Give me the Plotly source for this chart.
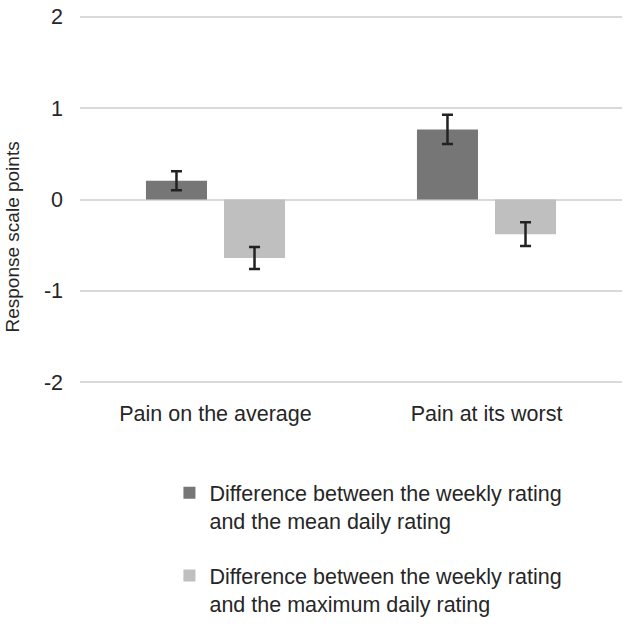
import plotly.graph_objects as go

categories = ["Pain on the average", "Pain at its worst"]
series_names = [
    "Difference between the weekly rating<br>and the mean daily rating",
    "Difference between the weekly rating<br>and the maximum daily rating",
]
mean_diff = [0.205, 0.767]
mean_err = [0.105, 0.16]
max_diff = [-0.64, -0.38]
max_err = [0.12, 0.13]
y_ticks = [-2, -1, 0, 1, 2]
y_title = "Response scale points"

FONT = "Liberation Sans, Arial, sans-serif"
TXT = "#262626"
ERR = dict(type="data", visible=True, thickness=2.5, width=5.5, color="#222222")

fig = go.Figure()
fig.add_trace(go.Bar(
    x=categories, y=mean_diff, name=series_names[0], legendgroup="a",
    marker=dict(color="#767676", line=dict(width=0)),
    error_y=dict(array=mean_err, **ERR),
))
fig.add_trace(go.Bar(
    x=categories, y=max_diff, name=series_names[1], legendgroup="b",
    marker=dict(color="#bfbfbf", line=dict(width=0)),
    error_y=dict(array=max_err, **ERR),
))

fig.update_layout(
    width=638, height=631,
    margin=dict(l=80, r=16, t=14, b=246, autoexpand=False),
    paper_bgcolor="white", plot_bgcolor="white",
    font=dict(family=FONT, size=21.5, color=TXT),
    barmode="group", bargap=0.424, bargroupgap=0.218,
    showlegend=True,
    legend=dict(
        x=0.165, xanchor="left", y=-0.235, yanchor="top",
        orientation="v", valign="top", tracegroupgap=24,
        font=dict(family=FONT, size=21.5, color=TXT),
        bgcolor="rgba(0,0,0,0)",
    ),
    annotations=[dict(
        text=y_title, textangle=-90, showarrow=False,
        xref="paper", yref="paper", x=-0.1245, y=0.399,
        xanchor="center", yanchor="middle",
        font=dict(family=FONT, size=19, color=TXT),
    )],
)
fig.update_xaxes(
    showgrid=False, showline=False, ticks="", zeroline=False,
    tickfont=dict(family=FONT, size=21.5, color=TXT),
    ticklabelstandoff=13,
)
fig.update_yaxes(
    range=[-2.03, 2.03], tickvals=y_ticks, ticktext=[str(v) for v in y_ticks],
    showgrid=True, gridcolor="#d9d9d9", gridwidth=2,
    zeroline=True, zerolinecolor="#d9d9d9", zerolinewidth=2,
    showline=False, ticks="", ticklabeloverflow="allow",
    tickfont=dict(family=FONT, size=21.5, color=TXT),
    ticklabelstandoff=16,
)

fig.write_html(
    "out.html",
    config={"displayModeBar": False},
    post_script="document.body.style.margin='0';",
)
